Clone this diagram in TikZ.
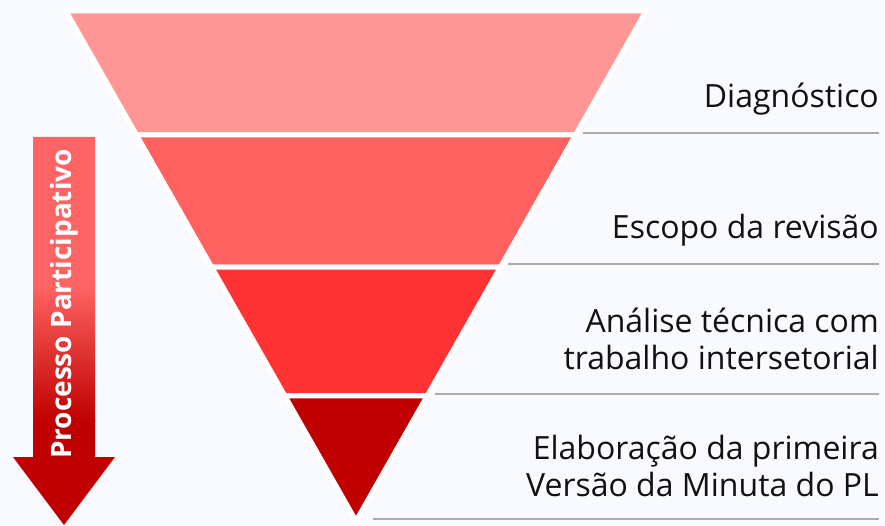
\documentclass[tikz,border=0pt]{standalone}
\usepackage{fontspec}
\setmainfont{Open Sans}
\usetikzlibrary{calc}
\definecolor{bg}{HTML}{F8FAFF}
\definecolor{bandA}{HTML}{FF9696}
\definecolor{bandB}{HTML}{FF6161}
\definecolor{bandC}{HTML}{FF3333}
\definecolor{bandD}{HTML}{C00000}
\definecolor{rulec}{HTML}{ABABAB}
\definecolor{arrowtop}{HTML}{FF6464}
\definecolor{txt}{HTML}{111111}
\begin{document}
\begin{tikzpicture}[x=1pt,y=-1pt,
  band/.style={draw=white, line width=5pt, line join=miter},
  seprule/.style={draw=rulec, line width=2pt},
  lab/.style={font=\fontsize{32}{37}\selectfont, text=txt, inner sep=0pt, align=right},
  arrowtext/.style={rotate=90, font=\bfseries\fontsize{28}{32}\selectfont, text=white, inner sep=0pt}]
\fill[bg] (0,0) rectangle (885,526);
\useasboundingbox (0,0) rectangle (885,526);
% funnel
\coordinate (A) at (66,11);
\coordinate (B) at (646,11);
\coordinate (C) at (356,521);
\coordinate (L1) at ($(A)!0.2431!(C)$); \coordinate (R1) at ($(B)!0.2431!(C)$);
\coordinate (L2) at ($(A)!0.5020!(C)$); \coordinate (R2) at ($(B)!0.5020!(C)$);
\coordinate (L3) at ($(A)!0.7549!(C)$); \coordinate (R3) at ($(B)!0.7549!(C)$);
\path[band, fill=bandA] (A) -- (B) -- (R1) -- (L1) -- cycle;
\path[band, fill=bandB] (L1) -- (R1) -- (R2) -- (L2) -- cycle;
\path[band, fill=bandC] (L2) -- (R2) -- (R3) -- (L3) -- cycle;
\path[band, fill=bandD] (L3) -- (R3) -- (C) -- cycle;
% rules
\coordinate (s1) at (583,133); \coordinate (e1) at (879,133);
\coordinate (s2) at (508,264); \coordinate (e2) at (879,264);
\coordinate (s3) at (435,394); \coordinate (e3) at (879,394);
\coordinate (s4) at (373,519); \coordinate (e4) at (879,519);
\draw[seprule] (s1) -- (e1);
\draw[seprule] (s2) -- (e2);
\draw[seprule] (s3) -- (e3);
\draw[seprule] (s4) -- (e4);
% labels
\node[lab, anchor=base east] (t1) at (879,108) {Diagnóstico};
\node[lab, anchor=base east] (t2) at (879,239) {Escopo da revisão};
\node[lab, anchor=base east] (t3) at (879,369) {Análise técnica com\\trabalho intersetorial};
\node[lab, anchor=base east] (t4) at (879,496) {Elaboração da primeira\\Versão da Minuta do PL};
% arrow
\begin{scope}
\clip (33,137) -- (95,137) -- (95,457) -- (115,457) -- (64,525) -- (13,457) -- (33,457) -- cycle;
\fill[arrowtop] (0,130) rectangle (130,286);
\shade[top color=arrowtop, bottom color=bandD] (0,285) rectangle (130,421);
\fill[bandD] (0,420) rectangle (130,526);
\end{scope}
\node[arrowtext] (proc) at (64,304) {Processo Participativo};
\end{tikzpicture}
\end{document}
